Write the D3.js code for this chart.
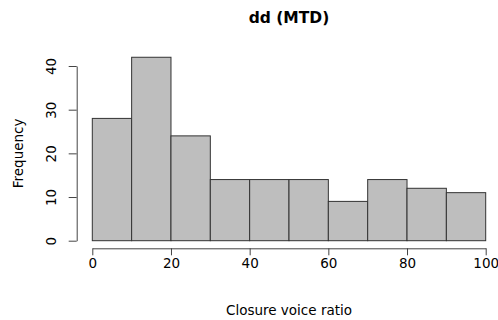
<!DOCTYPE html>
<html>
<head>
<meta charset="utf-8">
<script src="https://cdn.jsdelivr.net/npm/d3@7"></script>
<style>
  body { margin: 0; background: #fff; }
  text { font-family: "DejaVu Sans", sans-serif; fill: #000; }
</style>
</head>
<body>
<svg id="chart"></svg>
<script>
let binStarts = [0, 10, 20, 30, 40, 50, 60, 70, 80, 90];
let binWidth = 10;
let counts = [28, 42, 24, 14, 14, 14, 9, 14, 12, 11];
let xTicks = [0, 20, 40, 60, 80, 100];
let yTicks = [0, 10, 20, 30, 40];

let width = 498;
let height = 320;
let font = '"DejaVu Sans", sans-serif';

let svg = d3.select('#chart').attr('width', width).attr('height', height);

let xScale = d3.scaleLinear().domain([0, 100]).range([92.3, 485.7]);
let yScale = d3.scaleLinear().domain([0, 40]).range([240.7, 66]);

// bars
svg.selectAll('rect.bar')
  .data(binStarts)
  .enter()
  .append('rect')
  .attr('class', 'bar')
  .attr('x', d => xScale(d))
  .attr('width', d => xScale(d + binWidth) - xScale(d))
  .attr('y', (d, i) => yScale(counts[i]))
  .attr('height', (d, i) => yScale(0) - yScale(counts[i]))
  .attr('fill', '#bebebe')
  .attr('stroke', '#333')
  .attr('stroke-width', 1);

// x axis
let xAxis = d3.axisBottom(xScale).tickValues(xTicks).tickSize(7).tickPadding(3).tickSizeOuter(0);
let gx = svg.append('g')
  .attr('transform', 'translate(0,248.3)')
  .call(xAxis);
gx.select('.domain').attr('stroke', '#444');
gx.selectAll('.tick line').attr('stroke', '#444');
gx.selectAll('text').attr('font-size', 13.5).attr('font-family', font).attr('fill', '#222');

// y axis
let yAxis = d3.axisLeft(yScale).tickValues(yTicks).tickSize(8).tickPadding(0).tickSizeOuter(0);
let gy = svg.append('g')
  .attr('transform', 'translate(76.7,0)')
  .call(yAxis);
gy.select('.domain').attr('stroke', '#444');
gy.selectAll('.tick line').attr('stroke', '#444');
gy.selectAll('text')
  .attr('font-size', 13.5)
  .attr('font-family', font)
  .attr('fill', '#222')
  .attr('x', null)
  .attr('dy', null)
  .attr('text-anchor', 'middle')
  .attr('transform', 'translate(-26,0) rotate(-90)')
  .attr('dominant-baseline', 'central');

// titles
svg.append('text')
  .attr('x', (xScale(0) + xScale(100)) / 2)
  .attr('y', 23)
  .attr('text-anchor', 'middle')
  .attr('font-size', 15.5)
  .attr('font-weight', 'bold')
  .text('dd (MTD)');

svg.append('text')
  .attr('x', (xScale(0) + xScale(100)) / 2)
  .attr('y', 315)
  .attr('text-anchor', 'middle')
  .attr('font-size', 13.5)
  .attr('fill', '#222')
  .text('Closure voice ratio');

svg.append('text')
  .attr('transform', 'translate(23,' + (yScale(0) + yScale(40)) / 2 + ') rotate(-90)')
  .attr('text-anchor', 'middle')
  .attr('font-size', 13.5)
  .attr('fill', '#222')
  .text('Frequency');
</script>
</body>
</html>
